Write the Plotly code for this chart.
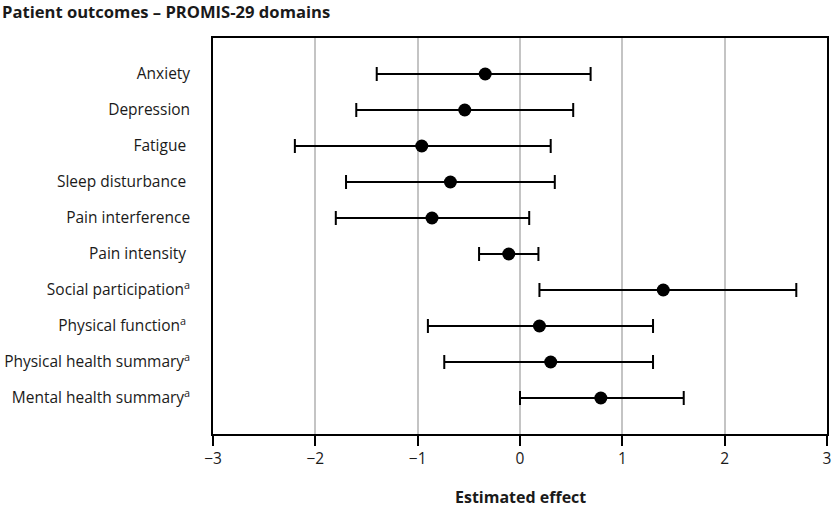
import plotly.graph_objects as go

categories = [
    "Anxiety",
    "Depression",
    "Fatigue\u00a0",
    "Sleep disturbance\u00a0",
    "Pain interference",
    "Pain intensity\u00a0",
    "Social participation<sup>a</sup>",
    "Physical function<sup>a</sup>\u00a0",
    "Physical health summary<sup>a</sup>",
    "Mental health summary<sup>a</sup>",
]
estimates = [-0.34, -0.54, -0.96, -0.68, -0.86, -0.11, 1.40, 0.19, 0.30, 0.79]
ci_lower = [-1.40, -1.60, -2.20, -1.70, -1.80, -0.40, 0.19, -0.90, -0.74, 0.00]
ci_upper = [0.69, 0.52, 0.30, 0.34, 0.09, 0.18, 2.70, 1.30, 1.30, 1.60]
x_ticks = [-3, -2, -1, 0, 1, 2, 3]
x_tick_labels = ["\u22123", "\u22122", "\u22121", "0", "1", "2", "3"]

err_plus = [u - e for u, e in zip(ci_upper, estimates)]
err_minus = [e - l for e, l in zip(estimates, ci_lower)]

FONT = "Open Sans"
FS = 15.5

fig = go.Figure()
fig.add_trace(go.Scatter(
    x=estimates,
    y=list(range(len(categories))),
    mode="markers",
    marker=dict(color="black", size=13),
    error_x=dict(type="data", symmetric=False, array=err_plus, arrayminus=err_minus,
                 color="black", thickness=2, width=7),
    showlegend=False,
    hoverinfo="x",
))

fig.update_layout(
    width=832, height=507,
    margin=dict(l=213, r=5, t=38, b=73, autoexpand=False),
    paper_bgcolor="white", plot_bgcolor="white",
    font=dict(family=FONT, color="#1a1a1a", size=FS),
    xaxis=dict(range=[-3, 3], tickvals=x_ticks, ticktext=x_tick_labels,
               showgrid=True, gridcolor="#c4c4c4", gridwidth=1.5,
               showline=True, linecolor="black", linewidth=1.5, mirror=True,
               ticks="outside", ticklen=10, tickwidth=1.5, tickcolor="black",
               zeroline=False, tickfont=dict(size=FS), automargin=False),
    yaxis=dict(range=[9 + 1, -1], tickvals=list(range(len(categories))),
               ticktext=categories, showgrid=False, zeroline=False,
               showline=True, linecolor="black", linewidth=1.5, mirror=True,
               ticks="", ticklabelstandoff=18, tickfont=dict(size=FS), automargin=False),
    annotations=[
        dict(text="<b>Patient outcomes \u2013 PROMIS-29 domains</b>", xref="paper", yref="paper",
             x=(0 - 213) / 614, y=(434 - 11.5) / 396, xanchor="left", yanchor="middle",
             showarrow=False, font=dict(family=FONT, size=16.6, color="#1a1a1a")),
        dict(text="<b>Estimated effect</b>", xref="paper", yref="paper",
             x=0.5, y=(434 - 497) / 396, xanchor="center", yanchor="middle",
             showarrow=False, font=dict(family=FONT, size=16, color="#1a1a1a")),
    ],
)

fig.write_html(
    "out.html",
    config={"displayModeBar": False},
    post_script="document.body.style.margin='0';document.body.style.overflow='hidden';",
)
